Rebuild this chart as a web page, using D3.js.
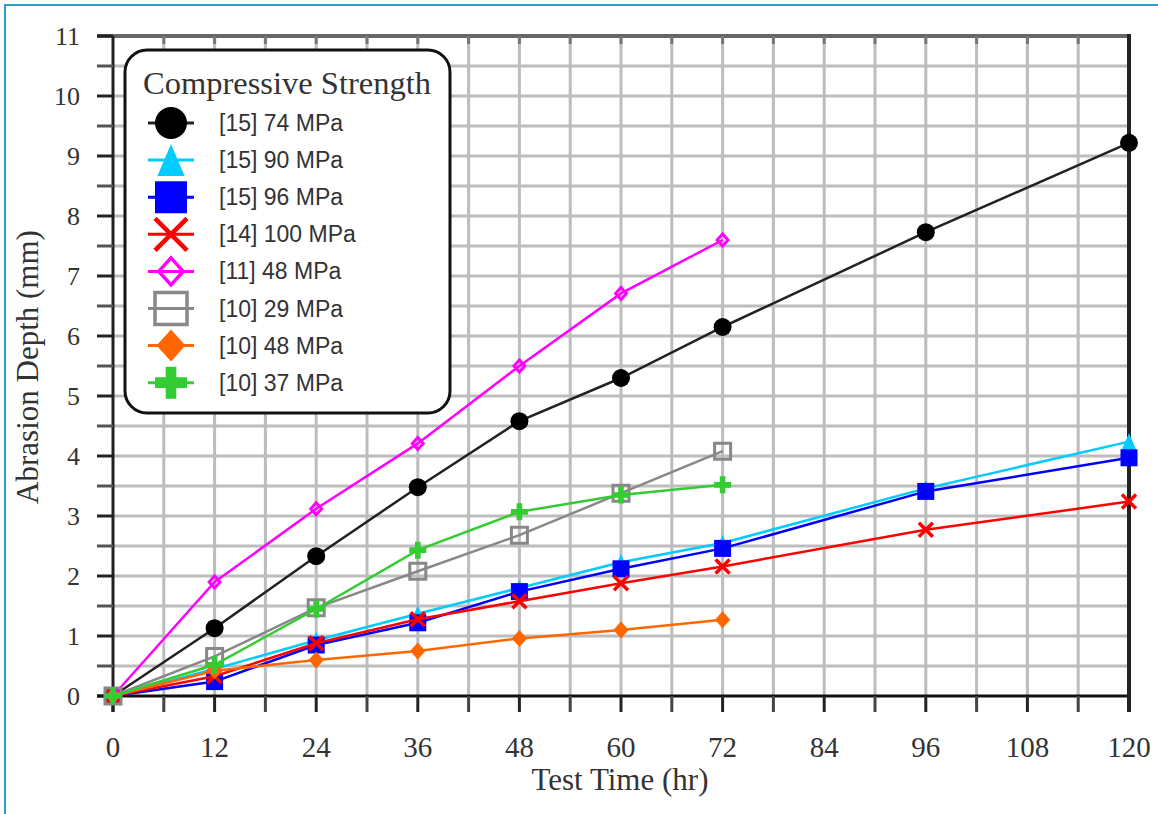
<!DOCTYPE html>
<html>
<head>
<meta charset="utf-8">
<script src="https://cdn.jsdelivr.net/npm/d3@7"></script>
<style>
body { margin: 0; background: #fff; }
</style>
</head>
<body>
<svg id="chart" width="1158" height="814"></svg>
<script>
// test times (hr)
var hoursLong = [0, 12, 24, 36, 48, 60, 72, 96, 120];
var hoursShort = [0, 12, 24, 36, 48, 60, 72];

// abrasion depth (mm)
var depth74 = [0, 1.13, 2.33, 3.48, 4.58, 5.30, 6.15, 7.73, 9.22];
var depth90 = [0, 0.45, 0.93, 1.37, 1.80, 2.23, 2.55, 3.46, 4.24];
var depth96 = [0, 0.24, 0.85, 1.22, 1.74, 2.12, 2.46, 3.41, 3.97];
var depth100 = [0, 0.33, 0.88, 1.28, 1.58, 1.88, 2.16, 2.77, 3.24];
var depth11_48 = [0, 1.90, 3.12, 4.21, 5.50, 6.71, 7.60];
var depth29 = [0, 0.66, 1.47, 2.08, 2.68, 3.38, 4.08];
var depth10_48 = [0, 0.42, 0.60, 0.75, 0.96, 1.10, 1.27];
var depth37 = [0, 0.52, 1.45, 2.43, 3.07, 3.35, 3.52];

var seriesLabels = ["[15] 74 MPa", "[15] 90 MPa", "[15] 96 MPa", "[14] 100 MPa",
                    "[11] 48 MPa", "[10] 29 MPa", "[10] 48 MPa", "[10] 37 MPa"];

var xTicks = d3.range(0, 121, 12);
var yTicks = d3.range(0, 12, 1);

var series = [
    {label: seriesLabels[0], x: hoursLong, y: depth74, color: "#000000", line: "#222", shape: "circle"},
    {label: seriesLabels[1], x: hoursLong, y: depth90, color: "#00ccff", line: "#00ccff", shape: "triangle"},
    {label: seriesLabels[2], x: hoursLong, y: depth96, color: "#0000ff", line: "#0000ff", shape: "square"},
    {label: seriesLabels[3], x: hoursLong, y: depth100, color: "#ff0000", line: "#ff0000", shape: "cross"},
    {label: seriesLabels[4], x: hoursShort, y: depth11_48, color: "#ff00ff", line: "#ff00ff", shape: "diamondOpen"},
    {label: seriesLabels[5], x: hoursShort, y: depth29, color: "#888888", line: "#888888", shape: "squareOpen"},
    {label: seriesLabels[6], x: hoursShort, y: depth10_48, color: "#ff6600", line: "#ff6600", shape: "diamond"},
    {label: seriesLabels[7], x: hoursShort, y: depth37, color: "#33cc33", line: "#33cc33", shape: "plus"}
];

var svg = d3.select("#chart");

var plotLeft = 113, plotRight = 1129, plotTop = 36, plotBottom = 696;

var x = d3.scaleLinear().domain([0, 120]).range([plotLeft, plotRight]);
var y = d3.scaleLinear().domain([0, 11]).range([plotBottom, plotTop]);

// outer frame
svg.append("rect")
    .attr("x", 5).attr("y", 5)
    .attr("width", 1170).attr("height", 830)
    .attr("fill", "none")
    .attr("stroke", "#22a3c8")
    .attr("stroke-width", 2);

// grid
svg.append("g")
    .selectAll("line")
    .data(d3.range(6, 120, 6))
    .enter().append("line")
    .attr("x1", function(d) { return x(d); })
    .attr("x2", function(d) { return x(d); })
    .attr("y1", plotTop).attr("y2", plotBottom)
    .attr("stroke", "#bdbdbd")
    .attr("stroke-width", 3);

svg.append("g")
    .selectAll("line")
    .data(d3.range(0.5, 11, 0.5))
    .enter().append("line")
    .attr("x1", plotLeft).attr("x2", plotRight)
    .attr("y1", function(d) { return y(d); })
    .attr("y2", function(d) { return y(d); })
    .attr("stroke", "#bdbdbd")
    .attr("stroke-width", 3);

// axes drawn by hand so they look like the original frame
var axisG = svg.append("g");

// top
axisG.append("line")
    .attr("x1", 97).attr("x2", plotRight).attr("y1", plotTop).attr("y2", plotTop)
    .attr("stroke", "#666").attr("stroke-width", 4);
axisG.selectAll("line.topTick")
    .data(d3.range(6, 120, 6))
    .enter().append("line")
    .attr("class", "topTick")
    .attr("x1", function(d) { return x(d); })
    .attr("x2", function(d) { return x(d); })
    .attr("y1", plotTop).attr("y2", plotTop + 8)
    .attr("stroke", "#777").attr("stroke-width", 3);

// left
axisG.append("line")
    .attr("x1", plotLeft).attr("x2", plotLeft).attr("y1", plotTop).attr("y2", plotBottom + 16)
    .attr("stroke", "#222").attr("stroke-width", 3);
axisG.selectAll("line.leftTick")
    .data(d3.range(0, 11.01, 0.5))
    .enter().append("line")
    .attr("class", "leftTick")
    .attr("x1", 97).attr("x2", plotLeft)
    .attr("y1", function(d) { return y(d); })
    .attr("y2", function(d) { return y(d); })
    .attr("stroke", function(d) { return d % 1 == 0 ? "#222" : "#555"; })
    .attr("stroke-width", 3);

// bottom
axisG.append("line")
    .attr("x1", 97).attr("x2", plotRight).attr("y1", plotBottom).attr("y2", plotBottom)
    .attr("stroke", "#111").attr("stroke-width", 3);
axisG.selectAll("line.bottomTick")
    .data(d3.range(0, 121, 6))
    .enter().append("line")
    .attr("class", "bottomTick")
    .attr("x1", function(d) { return x(d); })
    .attr("x2", function(d) { return x(d); })
    .attr("y1", plotBottom).attr("y2", plotBottom + 16)
    .attr("stroke", function(d) { return d % 12 == 0 ? "#222" : "#444"; })
    .attr("stroke-width", 3);

// right
axisG.append("line")
    .attr("x1", plotRight).attr("x2", plotRight).attr("y1", plotTop - 2).attr("y2", plotBottom + 16)
    .attr("stroke", "#222").attr("stroke-width", 4);

// tick labels
svg.append("g")
    .selectAll("text")
    .data(yTicks)
    .enter().append("text")
    .attr("x", 80)
    .attr("y", function(d) { return y(d) + 9; })
    .attr("text-anchor", "end")
    .style("font-family", "'Liberation Serif', serif")
    .style("font-size", "26px")
    .style("fill", "#333")
    .text(function(d) { return d; });

svg.append("g")
    .selectAll("text")
    .data(xTicks)
    .enter().append("text")
    .attr("x", function(d) { return x(d); })
    .attr("y", 757)
    .attr("text-anchor", "middle")
    .style("font-family", "'Liberation Serif', serif")
    .style("font-size", "29px")
    .style("fill", "#333")
    .text(function(d) { return d; });

// axis titles
svg.append("text")
    .attr("x", 620).attr("y", 790)
    .attr("text-anchor", "middle")
    .style("font-family", "'Liberation Serif', serif")
    .style("font-size", "31px")
    .style("fill", "#333")
    .text("Test Time (hr)");

svg.append("text")
    .attr("transform", "translate(38,367) rotate(-90)")
    .attr("text-anchor", "middle")
    .style("font-family", "'Liberation Serif', serif")
    .style("font-size", "31px")
    .style("fill", "#333")
    .text("Abrasion Depth (mm)");

// marker shapes, s is the full size
function markerPath(shape, s) {
    var h = s / 2;
    if (shape == "circle") {
        return "M" + (-h) + ",0A" + h + "," + h + " 0 1,0 " + h + ",0A" + h + "," + h + " 0 1,0 " + (-h) + ",0Z";
    } else if (shape == "triangle") {
        return "M0," + (-h) + "L" + (h * 0.85) + "," + h + "L" + (-h * 0.85) + "," + h + "Z";
    } else if (shape == "square" || shape == "squareOpen") {
        return "M" + (-h) + "," + (-h) + "H" + h + "V" + h + "H" + (-h) + "Z";
    } else if (shape == "cross") {
        return "M" + (-h) + "," + (-h) + "L" + h + "," + h + "M" + h + "," + (-h) + "L" + (-h) + "," + h;
    } else if (shape == "diamond" || shape == "diamondOpen") {
        return "M0," + (-h) + "L" + (h * 0.9) + ",0L0," + h + "L" + (-h * 0.9) + ",0Z";
    } else if (shape == "plus") {
        var a = s / 6;
        return "M" + (-a) + "," + (-h) + "H" + a + "V" + (-a) + "H" + h + "V" + a + "H" + a + "V" + h +
            "H" + (-a) + "V" + a + "H" + (-h) + "V" + (-a) + "H" + (-a) + "Z";
    }
}

function styleMarker(sel, d, w) {
    if (d.shape == "cross" || d.shape == "diamondOpen" || d.shape == "squareOpen") {
        sel.attr("fill", "none").attr("stroke", d.color).attr("stroke-width", w);
    } else {
        sel.attr("fill", d.color).attr("stroke", "none");
    }
}

// plot marker size and stroke width per shape
function plotSize(shape) {
    if (shape == "circle") return 18;
    if (shape == "diamondOpen") return 12;
    if (shape == "cross") return 14;
    if (shape == "squareOpen") return 16;
    return 17;
}

// data lines and markers
var line = d3.line()
    .x(function(p) { return x(p[0]); })
    .y(function(p) { return y(p[1]); });

series.forEach(function(d) {
    var pts = d3.zip(d.x, d.y);
    var g = svg.append("g");
    g.append("path")
        .attr("d", line(pts))
        .attr("fill", "none")
        .attr("stroke", d.line)
        .attr("stroke-width", 2.5);
    var size = plotSize(d.shape);
    g.selectAll("path.mk")
        .data(pts)
        .enter().append("path")
        .attr("class", "mk")
        .attr("transform", function(p) { return "translate(" + x(p[0]) + "," + y(p[1]) + ")"; })
        .attr("d", markerPath(d.shape, size))
        .each(function() { styleMarker(d3.select(this), d, d.shape == "cross" ? 3.5 : 3); });
});

// legend
var legend = svg.append("g");
legend.append("rect")
    .attr("x", 125).attr("y", 50)
    .attr("width", 325).attr("height", 363)
    .attr("rx", 22).attr("ry", 22)
    .attr("fill", "#fff")
    .attr("stroke", "#111")
    .attr("stroke-width", 3);

legend.append("text")
    .attr("x", 143).attr("y", 94)
    .style("font-family", "'Liberation Serif', serif")
    .style("font-size", "32.5px")
    .style("fill", "#333")
    .text("Compressive Strength");

var rows = legend.selectAll("g.row")
    .data(series)
    .enter().append("g")
    .attr("class", "row")
    .attr("transform", function(d, i) { return "translate(171," + (123 + i * 37.1) + ")"; });

rows.append("line")
    .attr("x1", -23).attr("x2", 23)
    .attr("stroke", function(d) { return d.line; })
    .attr("stroke-width", 3);

rows.append("path")
    .attr("d", function(d) { return markerPath(d.shape, d.shape == "diamondOpen" ? 27 : 32); })
    .each(function(d) { styleMarker(d3.select(this), d, d.shape == "cross" ? 4.5 : 3.5); });

rows.append("text")
    .attr("x", 48).attr("y", 8)
    .style("font-family", "'Liberation Sans', Arial, sans-serif")
    .style("font-size", "23px")
    .style("fill", "#333")
    .text(function(d) { return d.label; });
</script>
</body>
</html>
